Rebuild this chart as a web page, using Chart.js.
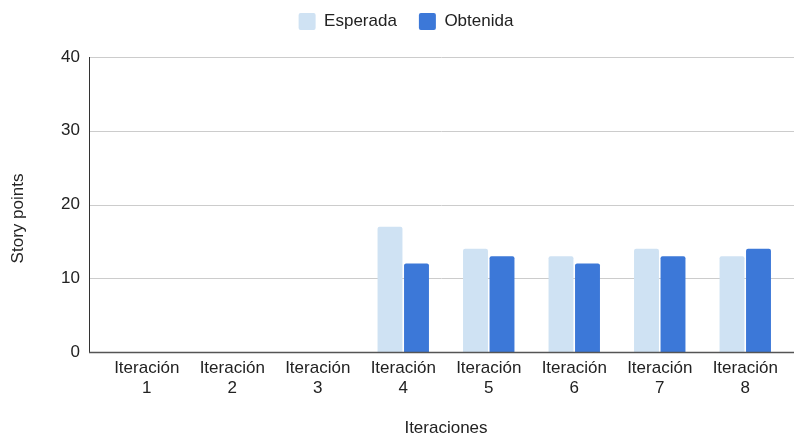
<!DOCTYPE html>
<html>
<head>
<meta charset="utf-8">
<script src="https://cdn.jsdelivr.net/npm/chart.js@4/dist/chart.umd.min.js"></script>
<style>
  html, body { margin: 0; padding: 0; background: #ffffff; }
  #wrap { width: 794px; height: 437px; position: relative; }
</style>
</head>
<body>
<div id="wrap"><canvas id="chart" width="794" height="437"></canvas></div>
<script>
// Story points per iteration
const categories = [
  ['Iteración', '1'], ['Iteración', '2'], ['Iteración', '3'], ['Iteración', '4'],
  ['Iteración', '5'], ['Iteración', '6'], ['Iteración', '7'], ['Iteración', '8']
];
const esperada = [0, 0, 0, 17, 14, 13, 14, 13];
const obtenida = [0, 0, 0, 12, 13, 12, 13, 14];
const yTicks = [0, 10, 20, 30, 40];
const yTitle = 'Story points';
const xTitle = 'Iteraciones';

const FONT = "'Liberation Sans', Arial, sans-serif";
const SIZE = 17;
const TEXT = '#222222';

// Extra room below the legend, and nudge it slightly right
const legendSpacing = {
  id: 'legendSpacing',
  beforeInit(chart) {
    const fit = chart.legend.fit;
    chart.legend.fit = function () {
      fit.call(this);
      this.height += 17;
    };
  },
  afterLayout(chart) {
    chart.legend.left += 12;
    chart.legend.right += 12;
  }
};

// Vertical axis title, centred on the full canvas height
const sideTitle = {
  id: 'sideTitle',
  afterDraw(chart) {
    const { ctx } = chart;
    ctx.save();
    ctx.translate(18, chart.height / 2);
    ctx.rotate(-Math.PI / 2);
    ctx.font = SIZE + 'px ' + FONT;
    ctx.fillStyle = TEXT;
    ctx.textAlign = 'center';
    ctx.textBaseline = 'middle';
    ctx.fillText(yTitle, 0, 0);
    ctx.restore();
  }
};

// Horizontal gridlines that run from the axis line to the right edge,
// plus the dark left axis and baseline.
const frameLines = {
  id: 'frameLines',
  beforeDatasetsDraw(chart) {
    const { ctx, chartArea, scales: { y } } = chart;
    const left = chartArea.left - 15;
    ctx.save();
    ctx.lineWidth = 1;
    ctx.strokeStyle = '#cccccc';
    y.ticks.forEach(t => {
      if (t.value === 0) return;
      const py = Math.round(y.getPixelForValue(t.value)) + 0.5;
      ctx.beginPath();
      ctx.moveTo(left, py);
      ctx.lineTo(chart.width, py);
      ctx.stroke();
    });
    ctx.restore();
  },
  afterDatasetsDraw(chart) {
    const { ctx, chartArea, scales: { y } } = chart;
    const left = chartArea.left - 15 + 0.5;
    const top = Math.round(y.getPixelForValue(40));
    const base = Math.round(y.getPixelForValue(0)) + 0.5;
    ctx.save();
    ctx.strokeStyle = '#333333';
    ctx.lineWidth = 1;
    ctx.beginPath();
    ctx.moveTo(left, top);
    ctx.lineTo(left, base);
    ctx.stroke();
    ctx.strokeStyle = '#555555';
    ctx.lineWidth = 1.5;
    ctx.beginPath();
    ctx.moveTo(left - 0.5, base);
    ctx.lineTo(chart.width, base);
    ctx.stroke();
    ctx.restore();
  }
};

new Chart(document.getElementById('chart'), {
  type: 'bar',
  data: {
    labels: categories,
    datasets: [
      {
        label: 'Esperada',
        data: esperada,
        backgroundColor: '#cfe2f3',
        borderWidth: 0,
        borderRadius: { topLeft: 2, topRight: 2 },
        borderSkipped: 'start'
      },
      {
        label: 'Obtenida',
        data: obtenida,
        backgroundColor: '#3c78d8',
        borderWidth: 0,
        borderRadius: { topLeft: 2, topRight: 2 },
        borderSkipped: 'start'
      }
    ]
  },
  options: {
    responsive: false,
    animation: false,
    layout: { padding: { top: -9, right: 6, bottom: 0, left: 0 } },
    categoryPercentage: 0.62,
    barPercentage: 0.94,
    plugins: {
      legend: {
        position: 'top',
        align: 'center',
        labels: {
          font: { family: FONT, size: SIZE },
          color: TEXT,
          boxWidth: 17,
          boxHeight: 17,
          padding: 22,
          useBorderRadius: true,
          borderRadius: 2
        }
      },
      tooltip: { enabled: false }
    },
    scales: {
      x: {
        grid: { display: false, drawTicks: false },
        border: { display: false },
        ticks: {
          font: { family: FONT, size: SIZE },
          color: TEXT,
          padding: 6,
          maxRotation: 0,
          autoSkip: false
        },
        title: {
          display: true,
          text: xTitle,
          font: { family: FONT, size: SIZE, lineHeight: 1 },
          color: TEXT,
          padding: { top: 0, bottom: 0 }
        },
        afterFit(scale) { scale.height = 85; }
      },
      y: {
        min: 0,
        max: 40,
        afterBuildTicks(scale) { scale.ticks = yTicks.map(v => ({ value: v })); },
        grid: { display: false, drawTicks: false },
        border: { display: false },
        ticks: {
          font: { family: FONT, size: SIZE },
          color: TEXT,
          padding: 24
        },
        title: { display: false },
        afterFit(scale) { scale.width = 104; }
      }
    }
  },
  plugins: [legendSpacing, frameLines, sideTitle]
});
</script>
</body>
</html>
